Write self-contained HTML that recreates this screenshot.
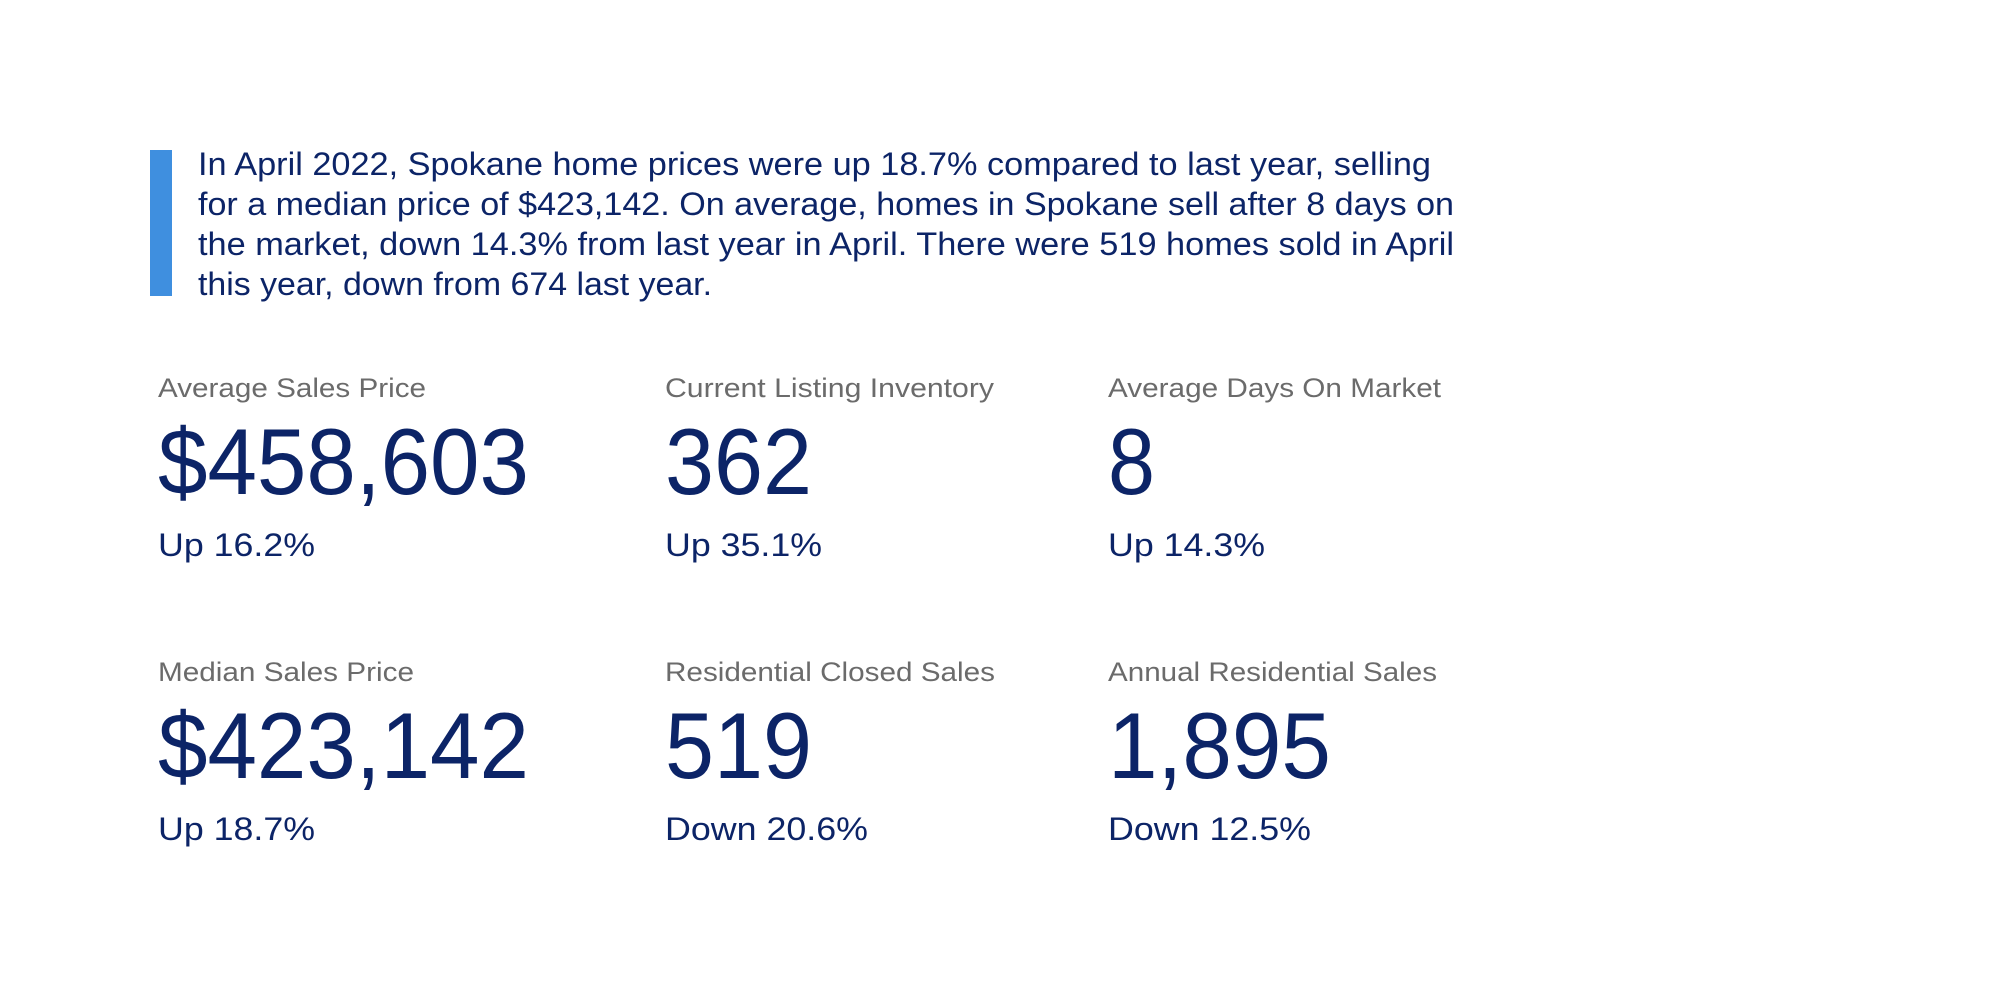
<!DOCTYPE html>
<html><head><meta charset="utf-8"><style>
html,body{margin:0;padding:0;background:#fff;width:2000px;height:1000px;overflow:hidden}
svg text{font-family:"Liberation Sans",Arial,sans-serif}
</style></head><body>
<svg width="2000" height="1000" viewBox="0 0 2000 1000" xmlns="http://www.w3.org/2000/svg">
<rect width="2000" height="1000" fill="#fff"/>
<rect x="150" y="150" width="22" height="146" fill="#3f8fdf"/>
<g fill="#0c2467" font-size="32">
<text x="198" y="175" textLength="1233" lengthAdjust="spacingAndGlyphs">In April 2022, Spokane home prices were up 18.7% compared to last year, selling</text>
<text x="198" y="215" textLength="1256" lengthAdjust="spacingAndGlyphs">for a median price of $423,142. On average, homes in Spokane sell after 8 days on</text>
<text x="198" y="255" textLength="1256" lengthAdjust="spacingAndGlyphs">the market, down 14.3% from last year in April. There were 519 homes sold in April</text>
<text x="198" y="295" textLength="514" lengthAdjust="spacingAndGlyphs">this year, down from 674 last year.</text>
</g>
<g fill="#6b6b6b" font-size="27">
<text x="158" y="397" textLength="268" lengthAdjust="spacingAndGlyphs">Average Sales Price</text>
<text x="665" y="397" textLength="329" lengthAdjust="spacingAndGlyphs">Current Listing Inventory</text>
<text x="1108" y="397" textLength="333" lengthAdjust="spacingAndGlyphs">Average Days On Market</text>
<text x="158" y="681" textLength="256" lengthAdjust="spacingAndGlyphs">Median Sales Price</text>
<text x="665" y="681" textLength="330" lengthAdjust="spacingAndGlyphs">Residential Closed Sales</text>
<text x="1108" y="681" textLength="329" lengthAdjust="spacingAndGlyphs">Annual Residential Sales</text>
</g>
<g fill="#0c2467" font-size="94">
<text x="158" y="494" textLength="371" lengthAdjust="spacingAndGlyphs">$458,603</text>
<text x="665" y="494" textLength="147" lengthAdjust="spacingAndGlyphs">362</text>
<text x="1108" y="494" textLength="47" lengthAdjust="spacingAndGlyphs">8</text>
<text x="158" y="778" textLength="371" lengthAdjust="spacingAndGlyphs">$423,142</text>
<text x="665" y="778" textLength="147" lengthAdjust="spacingAndGlyphs">519</text>
<text x="1108" y="778" textLength="223" lengthAdjust="spacingAndGlyphs">1,895</text>
</g>
<g fill="#0c2467" font-size="32">
<text x="158" y="556" textLength="157" lengthAdjust="spacingAndGlyphs">Up 16.2%</text>
<text x="665" y="556" textLength="157" lengthAdjust="spacingAndGlyphs">Up 35.1%</text>
<text x="1108" y="556" textLength="157" lengthAdjust="spacingAndGlyphs">Up 14.3%</text>
<text x="158" y="840" textLength="157" lengthAdjust="spacingAndGlyphs">Up 18.7%</text>
<text x="665" y="840" textLength="203" lengthAdjust="spacingAndGlyphs">Down 20.6%</text>
<text x="1108" y="840" textLength="203" lengthAdjust="spacingAndGlyphs">Down 12.5%</text>
</g>
</svg>
</body></html>
